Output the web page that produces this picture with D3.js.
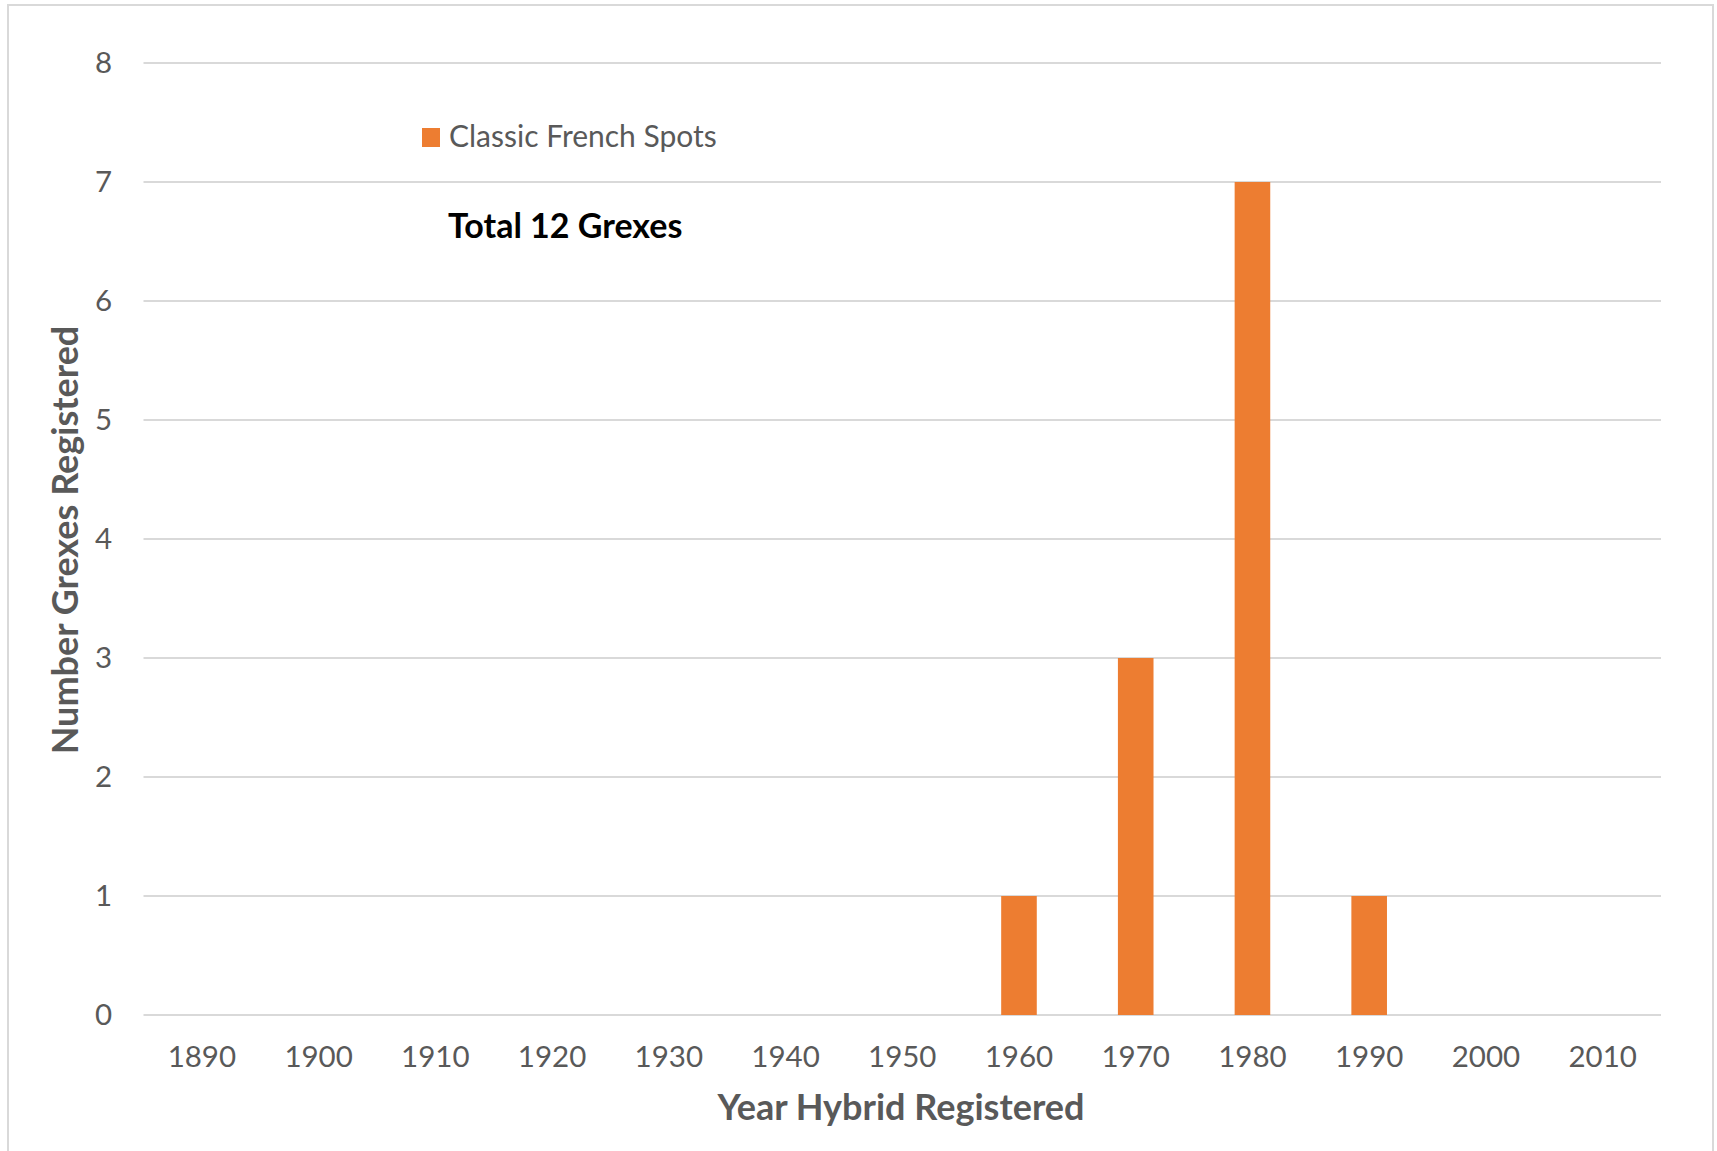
<!DOCTYPE html>
<html>
<head>
<meta charset="utf-8">
<script src="https://cdn.jsdelivr.net/npm/d3@7/dist/d3.min.js"></script>
<style>
  html, body { margin: 0; padding: 0; background: #fff; }
  svg { display: block; }
  text { font-family: Lato, "Open Sans", sans-serif; }
</style>
</head>
<body>
<svg id="chart" width="1717" height="1151"></svg>
<script>
const categories = ["1890","1900","1910","1920","1930","1940","1950","1960","1970","1980","1990","2000","2010"];
const values = [0,0,0,0,0,0,0,1,3,7,1,0,0];
const yTicks = [0,1,2,3,4,5,6,7,8];
const seriesName = "Classic French Spots";
const annotation = "Total 12 Grexes";
const xTitle = "Year Hybrid Registered";
const yTitle = "Number Grexes Registered";

const W = 1717, H = 1151;
const margin = {left: 143.5, right: W - 1661, top: 63, bottom: H - 1015};
const svg = d3.select("#chart");

svg.append("rect").attr("x", 0).attr("y", 0).attr("width", W).attr("height", H).attr("fill", "#fff");
svg.append("rect").attr("x", 8).attr("y", 5).attr("width", 1705).attr("height", 1160)
  .attr("fill", "none").attr("stroke", "#D9D9D9").attr("stroke-width", 2);

const x = d3.scaleBand().domain(categories).range([margin.left, W - margin.right]).paddingInner(0.695).paddingOuter(0.3475);
const y = d3.scaleLinear().domain([0, 8]).range([H - margin.bottom, margin.top]);

const textColor = "#595959";

// gridlines
svg.append("g").selectAll("line").data(yTicks).join("line")
  .attr("x1", margin.left).attr("x2", W - margin.right)
  .attr("y1", d => y(d)).attr("y2", d => y(d))
  .attr("stroke", "#D9D9D9").attr("stroke-width", 2);

// y axis
const yAxis = svg.append("g").attr("transform", `translate(${margin.left},0)`)
  .call(d3.axisLeft(y).tickValues(yTicks).tickSize(0).tickPadding(31.5).tickFormat(d3.format("d")));
yAxis.select(".domain").remove();
yAxis.selectAll("text").attr("font-size", 29.5).attr("fill", textColor).attr("font-family", "Lato");

// x axis
const xAxis = svg.append("g").attr("transform", `translate(0,${y(0)})`)
  .call(d3.axisBottom(x).tickSize(0).tickPadding(31));
xAxis.select(".domain").remove();
xAxis.selectAll("text").attr("font-size", 29.5).attr("fill", textColor).attr("font-family", "Lato");

// bars
svg.append("g").selectAll("rect").data(categories.map((c, i) => ({c, v: values[i]}))).join("rect")
  .attr("x", d => x(d.c)).attr("width", x.bandwidth())
  .attr("y", d => y(d.v)).attr("height", d => y(0) - y(d.v))
  .attr("fill", "#ED7D31");

// legend
svg.append("rect").attr("x", 422).attr("y", 128).attr("width", 18).attr("height", 19).attr("fill", "#ED7D31");
svg.append("text").attr("x", 449).attr("y", 147).attr("font-size", 30).attr("fill", textColor).text(seriesName);

// annotation
svg.append("text").attr("x", 448).attr("y", 238).attr("font-size", 34).attr("font-weight", "bold").attr("fill", "#000").text(annotation);

// axis titles
svg.append("text").attr("x", 901).attr("y", 1120).attr("text-anchor", "middle")
  .attr("font-size", 36).attr("font-weight", "bold").attr("fill", textColor).text(xTitle);
svg.append("text").attr("transform", `translate(78,540) rotate(-90)`).attr("text-anchor", "middle")
  .attr("font-size", 36).attr("font-weight", "bold").attr("fill", textColor).text(yTitle);
</script>
</body>
</html>
